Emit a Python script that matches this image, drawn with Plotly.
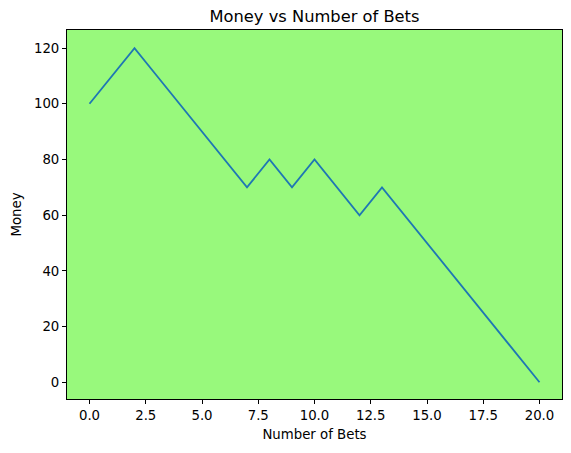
import plotly.graph_objects as go

bets = list(range(21))
money = [100, 110, 120, 110, 100, 90, 80, 70, 80, 70, 80, 70, 60, 70, 60, 50, 40, 30, 20, 10, 0]
x_ticks = [0, 2.5, 5, 7.5, 10, 12.5, 15, 17.5, 20]
x_tick_labels = ["0.0", "2.5", "5.0", "7.5", "10.0", "12.5", "15.0", "17.5", "20.0"]
y_ticks = [0, 20, 40, 60, 80, 100, 120]

# The page body has an 8px default margin, so the figure is 8px smaller
W, H = 563, 445

fig = go.Figure(go.Scatter(x=bets, y=money, mode="lines",
                           line=dict(color="#1f77b4", width=1.8)))

axis_common = dict(showgrid=False, zeroline=False, showline=True, mirror=True,
                   linecolor="black", linewidth=1, ticks="outside", ticklen=4,
                   tickcolor="black", tickfont=dict(size=13.3, color="black"),
                   automargin=False)

fig.update_layout(
    width=W, height=H,
    margin=dict(l=59, r=9, t=22, b=54),
    paper_bgcolor="white", plot_bgcolor="#98F97C",
    font=dict(family="DejaVu Sans", color="black"),
    title=dict(text="Money vs Number of Bets", x=(314.5 - 8) / W, xanchor="center",
               y=1 - 8 / H, yanchor="middle", font=dict(size=16.3)),
    xaxis=dict(range=[-1, 21], tickvals=x_ticks, ticktext=x_tick_labels,
               title=dict(text="Number of Bets", font=dict(size=13.3), standoff=7),
               **axis_common),
    yaxis=dict(range=[-6, 126.5], tickvals=y_ticks,
               title=dict(text="Money", font=dict(size=13.3), standoff=9),
               **axis_common),
    showlegend=False,
)

fig.write_html("out.html")
